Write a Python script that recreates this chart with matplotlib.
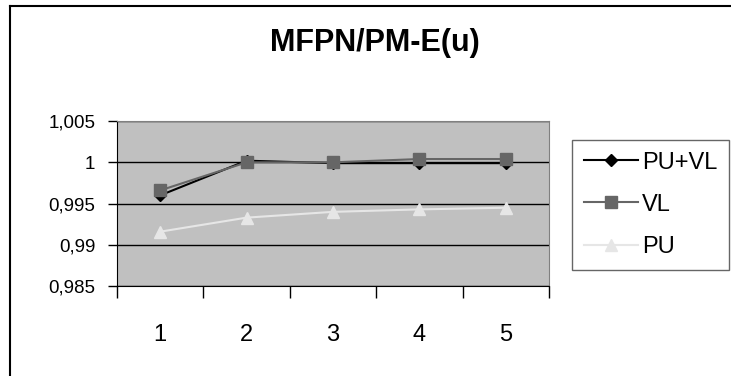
import matplotlib

matplotlib.use("Agg")
import matplotlib.pyplot as plt
from matplotlib.lines import Line2D
from matplotlib.ticker import FuncFormatter, FixedLocator

plt.rcParams["font.family"] = ["Liberation Sans", "DejaVu Sans"]

# Series values per step
steps = [1, 2, 3, 4, 5]
pu_vl = [0.9960, 1.0002, 0.9999, 0.9999, 0.9999]
vl = [0.9966, 1.0000, 1.0000, 1.0004, 1.0004]
pu = [0.9916, 0.9933, 0.9940, 0.9943, 0.9945]

y_ticks = [0.985, 0.99, 0.995, 1.0, 1.005]
y_labels = ["0,985", "0,99", "0,995", "1", "1,005"]

fig = plt.figure(figsize=(7.31, 3.76), dpi=100)

# chart frame (only the left and top edges fall inside the image)
fig.lines.append(Line2D([0.0137, 0.0137], [0.0, 0.983], transform=fig.transFigure,
                        color="black", linewidth=1.5))
fig.lines.append(Line2D([0.0137, 1.0], [0.983, 0.983], transform=fig.transFigure,
                        color="black", linewidth=1.5))

ax = fig.add_axes([0.160, 0.239, 0.591, 0.439])
ax.set_facecolor("#C0C0C0")

ax.plot(steps, pu_vl, color="black", linewidth=1.5, marker="D", markersize=6,
        label="PU+VL", zorder=3)
ax.plot(steps, vl, color="#666666", linewidth=1.5, marker="s", markersize=8,
        label="VL", zorder=4)
ax.plot(steps, pu, color="#E6E6E6", linewidth=1.5, marker="^", markersize=9,
        label="PU", zorder=3)

ax.set_xlim(0.5, 5.5)
ax.set_ylim(0.985, 1.005)

ax.yaxis.set_major_locator(FixedLocator(y_ticks))
ax.yaxis.set_major_formatter(FuncFormatter(lambda v, pos: dict(zip(y_ticks, y_labels)).get(round(v, 3), "")))
ax.grid(axis="y", color="black", linewidth=1.0)
ax.set_axisbelow(True)

# category boundaries get the tick marks, the labels sit between them
ax.set_xticks([0.5, 1.5, 2.5, 3.5, 4.5, 5.5])
ax.set_xticklabels([])
ax.set_xticks(steps, minor=True)
ax.set_xticklabels([str(s) for s in steps], minor=True, fontsize=17)
ax.tick_params(axis="x", which="major", direction="out", length=8.5, width=1)
ax.tick_params(axis="x", which="minor", length=0, pad=27)
ax.tick_params(axis="y", direction="out", length=6.5, width=1, labelsize=13.5, pad=9)

for side in ["top", "right"]:
    ax.spines[side].set_color("#808080")
for side in ["left", "bottom"]:
    ax.spines[side].set_color("black")

fig.text(0.513, 0.886, "MFPN/PM-E(u)", ha="center", va="center",
         fontsize=22, fontweight="bold")

leg = fig.legend(loc="upper left", bbox_to_anchor=(0.7825, 0.628, 0.2148, 0.0),
                 fontsize=17, frameon=True, fancybox=False, edgecolor="#404040",
                 handlelength=2.3, handletextpad=0.15, labelspacing=0.85,
                 borderpad=0.5, borderaxespad=0.0, mode="expand", markerscale=1.0)
leg.get_frame().set_linewidth(1.0)

fig.savefig("out.png", dpi=100)
plt.close(fig)
